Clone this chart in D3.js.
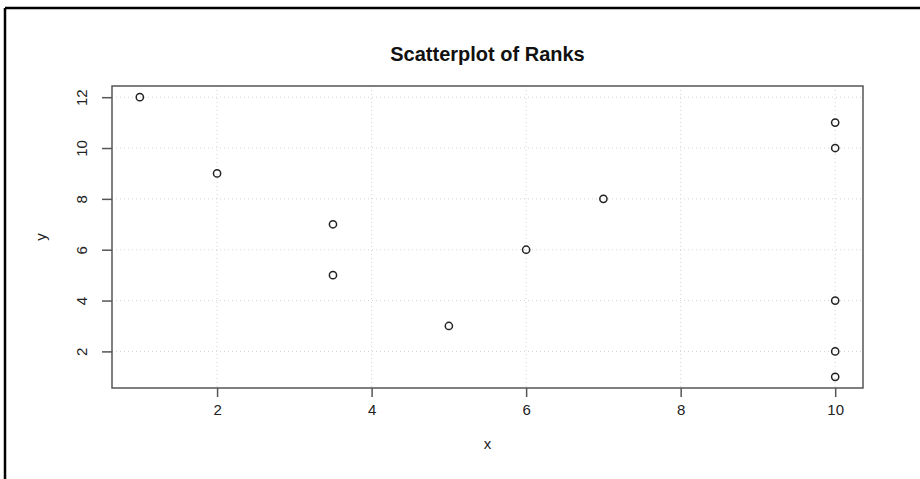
<!DOCTYPE html>
<html>
<head>
<meta charset="utf-8">
<script src="https://cdn.jsdelivr.net/npm/d3@7"></script>
<style>
  body { margin: 0; background: #fff; }
  svg { display: block; font-family: "Liberation Sans", Arial, Helvetica, sans-serif; }
</style>
</head>
<body>
<div id="chart"></div>
<script>
// data
const xValues = [1, 2, 3.5, 3.5, 5, 6, 7, 10, 10, 10, 10, 10];
const yValues = [12, 9, 7, 5, 3, 6, 8, 11, 10, 4, 2, 1];
const xTicks = [2, 4, 6, 8, 10];
const yTicks = [2, 4, 6, 8, 10, 12];

const W = 920, H = 479;
const margin = { top: 86, right: 57, bottom: 91, left: 112 };
const width = W - margin.left - margin.right,
  height = H - margin.top - margin.bottom;

const points = xValues.map((x, i) => ({ x: x, y: yValues[i] }));

const svg = d3.select("#chart")
  .append("svg")
  .attr("width", W)
  .attr("height", H);

// outer frame (only top and left edges visible)
svg.append("line").attr("x1", 5).attr("x2", W).attr("y1", 8).attr("y2", 8)
  .attr("stroke", "#000").attr("stroke-width", 2.5);
svg.append("line").attr("x1", 5).attr("x2", 5).attr("y1", 8).attr("y2", H)
  .attr("stroke", "#000").attr("stroke-width", 2.5);

// R-style 4% range extension
const xr = d3.extent(xValues), yr = d3.extent(yValues);
const xPad = (xr[1] - xr[0]) * 0.04, yPad = (yr[1] - yr[0]) * 0.04;

const x = d3.scaleLinear()
  .domain([xr[0] - xPad, xr[1] + xPad])
  .range([0, width]);
const y = d3.scaleLinear()
  .domain([yr[0] - yPad, yr[1] + yPad])
  .range([height, 0]);

const g = svg.append("g")
  .attr("transform", "translate(" + margin.left + "," + margin.top + ")");

// grid
g.selectAll(".gx")
  .data(xTicks)
  .enter()
  .append("line")
  .attr("x1", d => x(d)).attr("x2", d => x(d))
  .attr("y1", 0).attr("y2", height)
  .attr("stroke", "#d3d3d3").attr("stroke-dasharray", "1,3");
g.selectAll(".gy")
  .data(yTicks)
  .enter()
  .append("line")
  .attr("x1", 0).attr("x2", width)
  .attr("y1", d => y(d)).attr("y2", d => y(d))
  .attr("stroke", "#d3d3d3").attr("stroke-dasharray", "1,3");

// axes
const xAxis = g.append("g")
  .attr("transform", `translate(0, ${height})`)
  .call(d3.axisBottom(x).tickValues(xTicks).tickSize(9).tickPadding(7).tickFormat(d3.format("d")));
const yAxis = g.append("g")
  .call(d3.axisLeft(y).tickValues(yTicks).tickSize(10).tickPadding(14).tickFormat(d3.format("d")));

[xAxis, yAxis].forEach(a => {
  a.select(".domain").remove();
  a.selectAll("line").attr("stroke", "#555").attr("stroke-width", 1.5);
  a.selectAll("text").attr("font-size", 15).attr("fill", "#222").attr("font-family", null);
});
// R default: y tick labels parallel to the axis
yAxis.selectAll("text")
  .attr("text-anchor", "middle")
  .attr("dy", null)
  .attr("x", 0)
  .attr("y", 0)
  .attr("transform", "translate(-25,0) rotate(-90)");

// box
g.append("rect")
  .attr("width", width).attr("height", height)
  .attr("fill", "none").attr("stroke", "#555").attr("stroke-width", 1.5);

// points
g.selectAll("circle")
  .data(points)
  .enter()
  .append("circle")
  .attr("cx", d => x(d.x))
  .attr("cy", d => y(d.y))
  .attr("r", 3.6)
  .attr("fill", "none")
  .attr("stroke", "#222")
  .attr("stroke-width", 1.5);

// labels
svg.append("text")
  .attr("x", margin.left + width / 2).attr("y", 61)
  .attr("text-anchor", "middle")
  .attr("font-size", 20).attr("font-weight", "bold").attr("fill", "#111")
  .text("Scatterplot of Ranks");
svg.append("text")
  .attr("x", margin.left + width / 2).attr("y", 449)
  .attr("text-anchor", "middle")
  .attr("font-size", 15).attr("fill", "#222")
  .text("x");
svg.append("text")
  .attr("transform", "translate(46," + (margin.top + height / 2) + ") rotate(-90)")
  .attr("text-anchor", "middle")
  .attr("font-size", 15).attr("fill", "#222")
  .text("y");
</script>
</body>
</html>
